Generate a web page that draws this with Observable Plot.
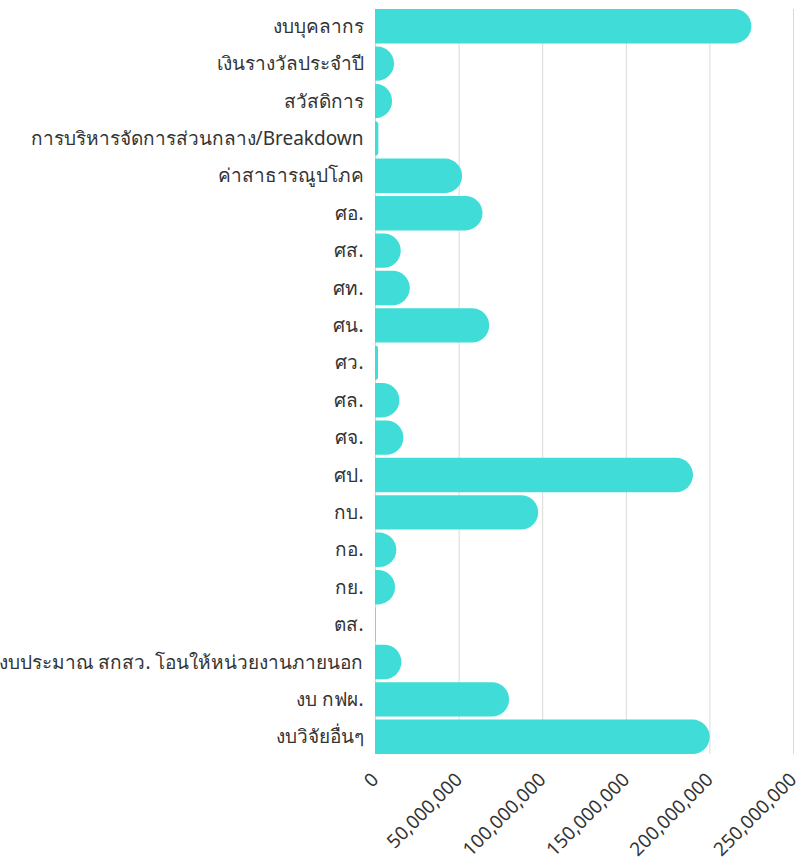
<!DOCTYPE html>
<html>
<head>
<meta charset="utf-8">
<script src="https://cdn.jsdelivr.net/npm/d3@7"></script>
<script src="https://cdn.jsdelivr.net/npm/@observablehq/plot@0.6"></script>
<style>
  body { margin: 0; background: #fff; }
  #chart svg { display: block; }
</style>
</head>
<body>
<div id="chart"></div>
<script>
const categories = [
  "งบบุคลากร",
  "เงินรางวัลประจำปี",
  "สวัสดิการ",
  "การบริหารจัดการส่วนกลาง/Breakdown",
  "ค่าสาธารณูปโภค",
  "ศอ.",
  "ศส.",
  "ศท.",
  "ศน.",
  "ศว.",
  "ศล.",
  "ศจ.",
  "ศป.",
  "กบ.",
  "กอ.",
  "กย.",
  "ตส.",
  "งบประมาณ สกสว. โอนให้หน่วยงานภายนอก",
  "งบ กฟผ.",
  "งบวิจัยอื่นๆ"
];
const values = [
  225100000, 11400000, 10200000, 2000000, 52100000,
  64300000, 15400000, 20800000, 68300000, 1800000,
  14600000, 17000000, 190200000, 97600000, 12800000,
  12000000, 400000, 15800000, 80200000, 200200000
];
const xTicks = [0, 50000000, 100000000, 150000000, 200000000, 250000000];

const data = categories.map((c, i) => ({category: c, value: values[i]}));

const chart = Plot.plot({
  width: 807,
  height: 864,
  marginLeft: 375,
  marginRight: 14,
  marginTop: 9,
  marginBottom: 110,
  style: {fontFamily: "'Noto Sans', 'Open Sans', sans-serif", fontSize: "19px", color: "#333", background: "#fff"},
  x: {domain: [0, 250000000]},
  y: {domain: categories, paddingInner: 0.08, paddingOuter: 0, round: false},
  marks: [
    Plot.gridX(xTicks, {stroke: "#d9d9d9", strokeOpacity: 1, strokeWidth: 1}),
    Plot.barX(data, {x: "value", y: "category", fill: "#40dcd8", rx2: 20}),
    Plot.axisY({tickSize: 0, tickPadding: 12, label: null, fontSize: 19}),
    Plot.axisX({ticks: xTicks, tickFormat: d3.format(","), tickRotate: -45, tickSize: 0, tickPadding: 10, dx: 0, dy: 12, label: null, fontSize: 19})
  ]
});
document.getElementById("chart").appendChild(chart);
</script>
</body>
</html>
